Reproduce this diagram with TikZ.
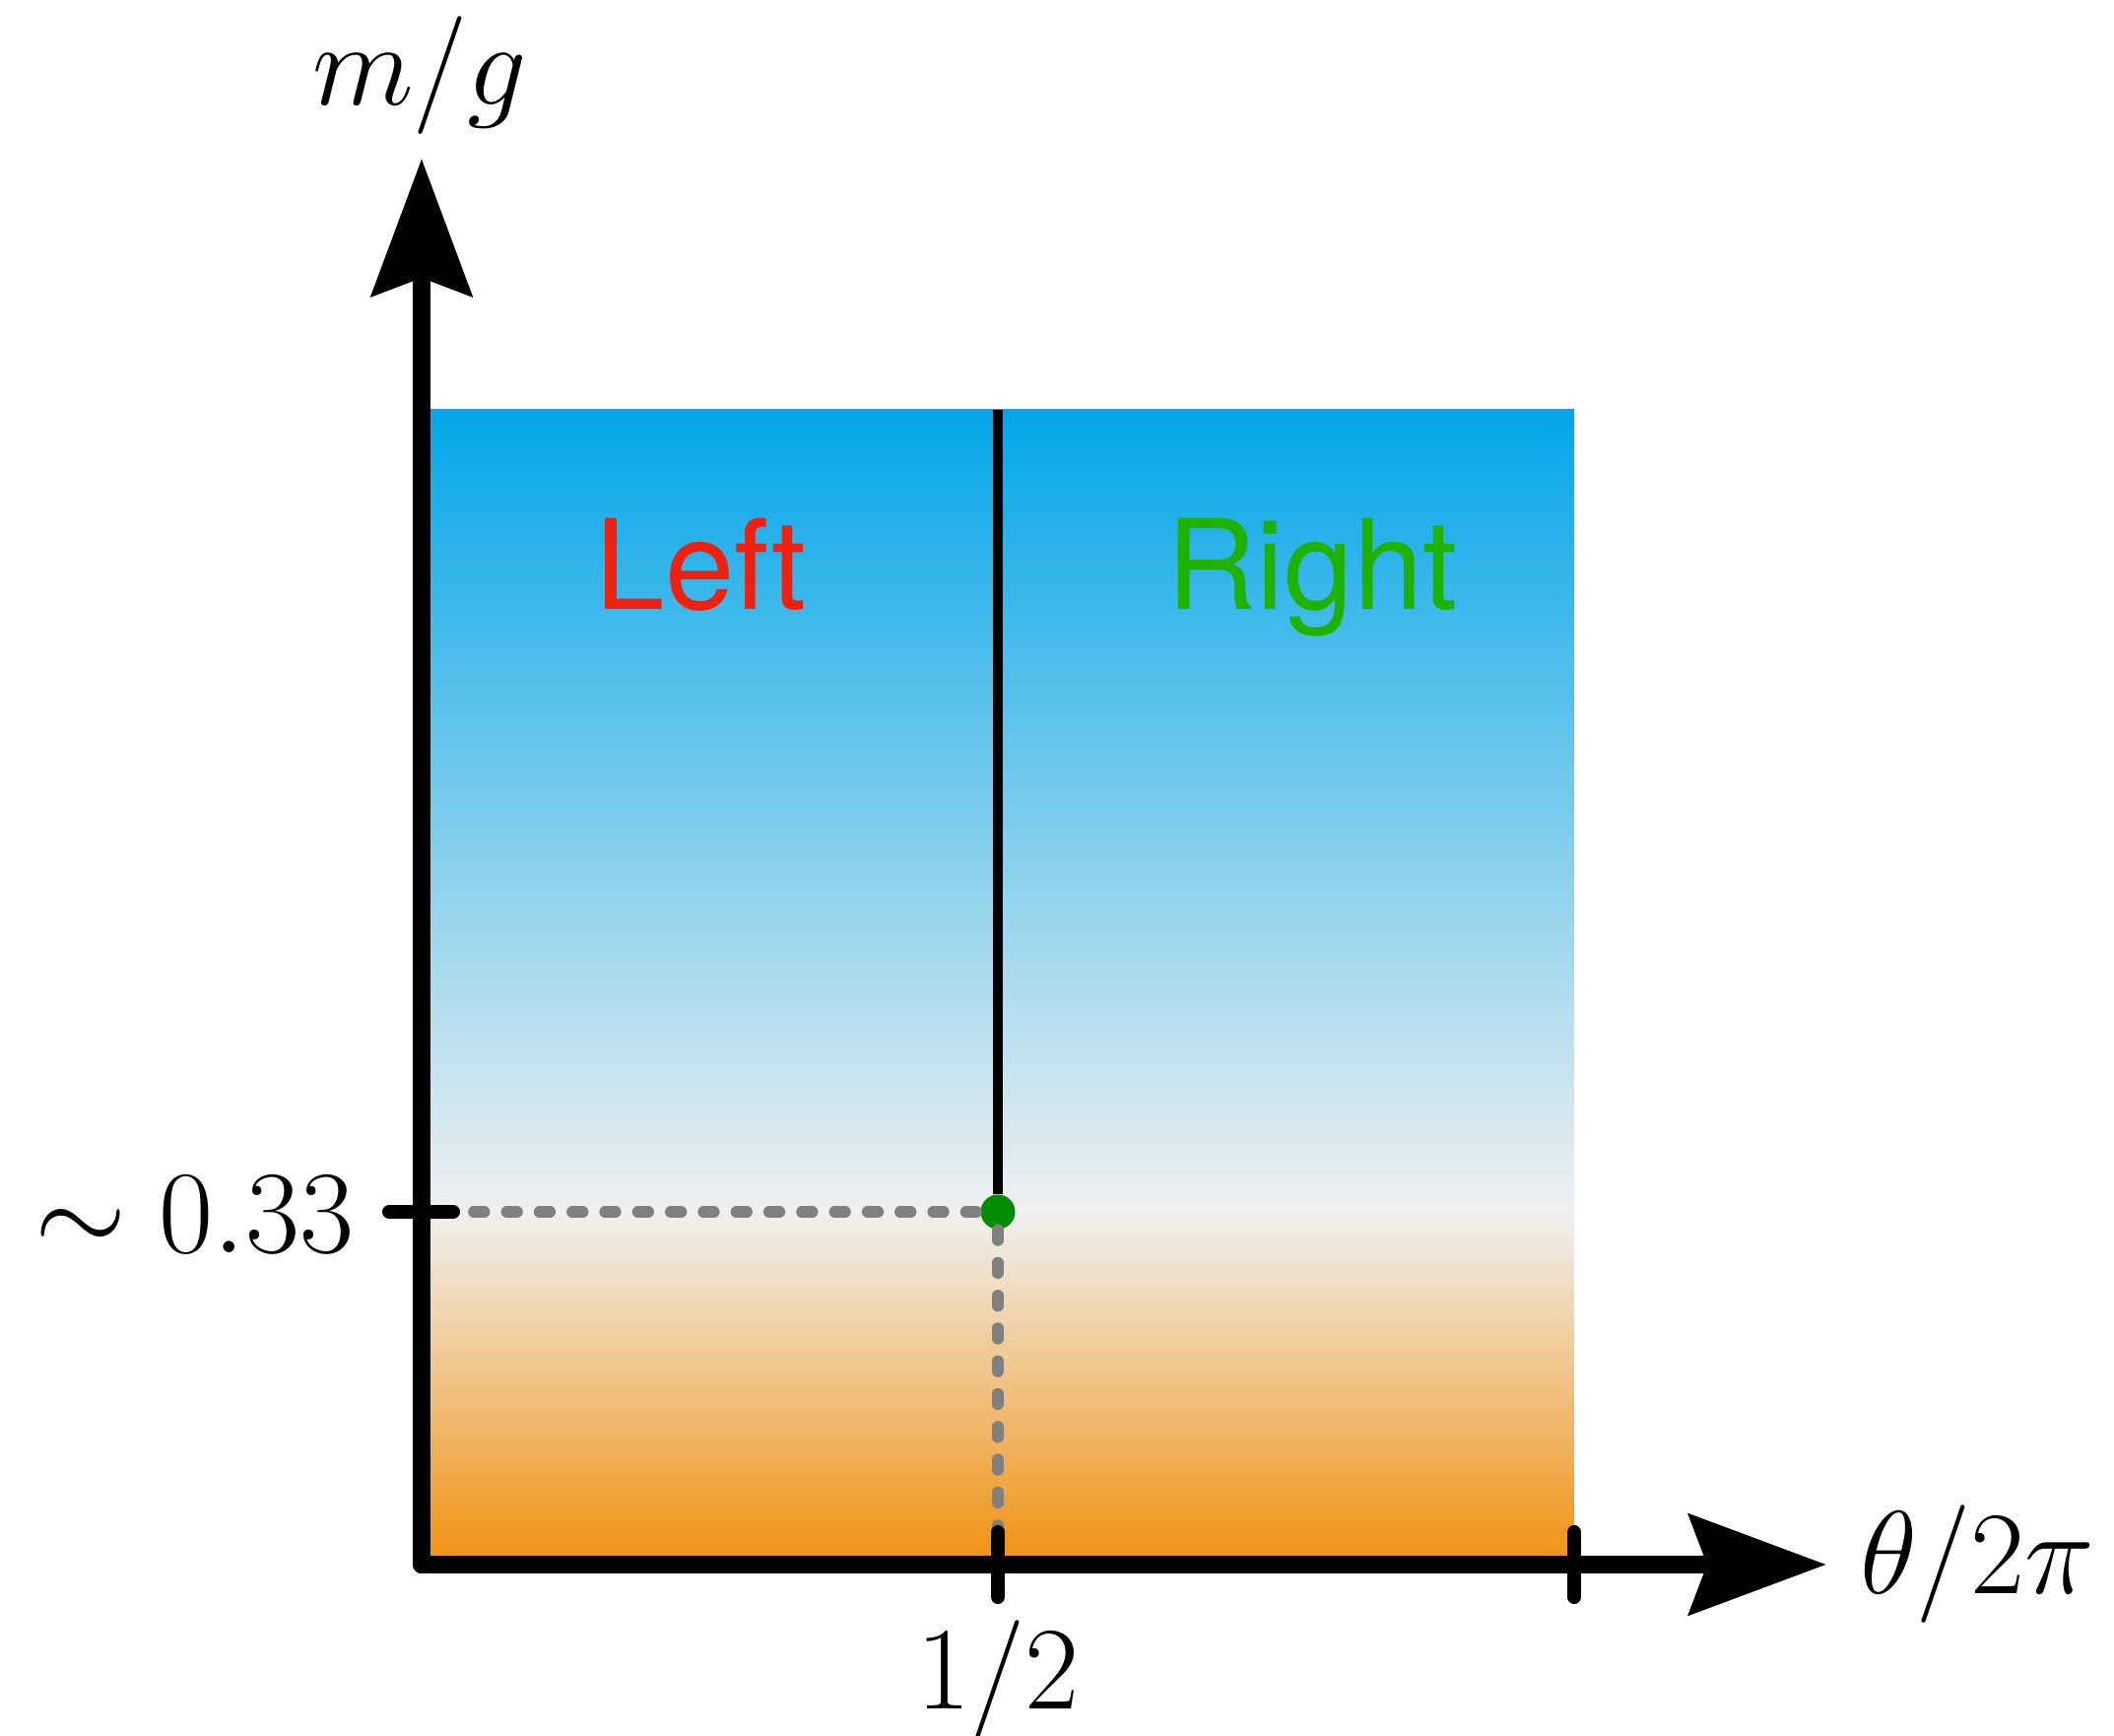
\documentclass[tikz,border=0pt]{standalone}
\usepackage{fontspec}
\newfontfamily\regionfont{TeX Gyre Heros}
\usetikzlibrary{arrows.meta, positioning}
\definecolor{cSky}{RGB}{3,166,233}
\definecolor{cMist}{RGB}{240,240,240}
\definecolor{cAmber}{RGB}{240,145,15}
\definecolor{cLeft}{RGB}{238,32,16}
\definecolor{cRight}{RGB}{32,178,0}
\definecolor{cDot}{RGB}{0,140,0}
\definecolor{cGuide}{RGB}{128,128,128}
\tikzset{
  axisline/.style={line width=5.1pt, line cap=round,
                   -{Stealth[length=1.39cm, width=1.01cm, inset=0.18cm]}},
  tickline/.style={line width=4pt, line cap=round},
  phaseline/.style={line width=3.1pt},
  guideline/.style={line width=3.3pt, color=cGuide, line cap=round,
                    dash pattern=on 0.107cm off 0.226cm},
  mathlabel/.style={inner sep=0pt, font=\Huge, scale=1.37},
  regionlabel/.style={inner sep=0pt, font=\regionfont\fontsize{36}{42}\selectfont},
  critdot/.style={circle, fill=cDot, inner sep=0pt, minimum size=0.35cm}
}

\begin{document}
\begin{tikzpicture}
  \useasboundingbox (0,0) rectangle (21.46,17.61);
  \coordinate (origin) at (4.28,1.73);
  \coordinate (xtip)   at (18.54,1.73);
  \coordinate (ytip)   at (4.28,16.00);
  \coordinate (half)   at (10.13,1.73);
  \coordinate (full)   at (15.98,1.73);
  \coordinate (ymark)  at (4.28,5.31);
  \coordinate (gstart) at (4.81,5.31);
  \coordinate (ptop)   at (10.13,13.45);

  % phase diagram background
  \shade[top color=cSky, bottom color=cMist] (ymark) rectangle (15.98,13.45);
  \shade[top color=cMist, bottom color=cAmber] (origin) rectangle (15.98,5.31);

  \node[critdot] (crit) at (10.13,5.31) {};
  \draw[guideline] (gstart) -- (crit);
  \draw[guideline] (crit) -- (half);
  \draw[phaseline] (crit) -- (ptop);

  \draw[axisline] (origin) -- (xtip);
  \draw[axisline] (origin) -- (ytip);

  \foreach \t in {half, full}
    \draw[tickline] ([yshift=0.33cm]\t) -- ([yshift=-0.33cm]\t);
  \draw[tickline] ([xshift=-0.33cm]ymark) -- ([xshift=0.32cm]ymark);

  \node[mathlabel, anchor=base] (ylab) at (4.26,16.54) {$m/g$};
  \node[mathlabel, anchor=base west] (xlab) at (18.87,1.44) {$\theta/2\pi$};
  \node[mathlabel, anchor=base] (halflab) at (10.13,0.27) {$1/2$};
  \node[mathlabel, anchor=base east] (marklab) at (3.60,4.90) {$\sim 0.33$};
  \node[regionlabel, text=cLeft, anchor=base] (left) at (7.12,11.42) {Left};
  \node[regionlabel, text=cRight, anchor=base] (right) at (13.32,11.42) {Right};
\end{tikzpicture}
\end{document}
